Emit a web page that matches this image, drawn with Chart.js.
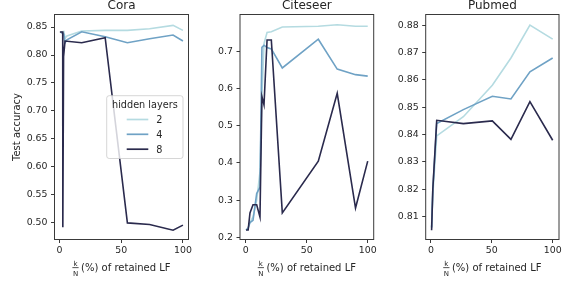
<!DOCTYPE html>
<html>
<head>
<meta charset="utf-8">
<script src="https://cdn.jsdelivr.net/npm/chart.js@4.4.0/dist/chart.umd.min.js"></script>
<style>
  html, body { margin: 0; padding: 0; background: #fff; }
  #wrap { position: relative; width: 581px; height: 291px; }
  #wrap canvas { position: absolute; left: 0; top: 0; }
</style>
</head>
<body>
<div id="wrap">
  <canvas id="cora" width="581" height="291"></canvas>
  <canvas id="citeseer" width="581" height="291"></canvas>
  <canvas id="pubmed" width="581" height="291"></canvas>
</div>
<script>
// --- dados ---
const layerLabels = ['2', '4', '8'];
const xTicks = [0, 50, 100];

// Cora
const coraX2 = [1, 3.5, 4.5, 6, 18, 37, 55, 73, 92, 100];
const coraY2 = [0.841, 0.842, 0.830, 0.834, 0.843, 0.844, 0.844, 0.847, 0.853, 0.844];
const coraX4 = [1, 3.5, 4.5, 6, 18, 37, 55, 73, 92, 100];
const coraY4 = [0.841, 0.837, 0.822, 0.827, 0.8416, 0.8326, 0.822, 0.829, 0.8357, 0.825];
const coraX8 = [0.3, 2.6, 2.7, 3.3, 4.5, 18, 37, 55, 73, 92, 100];
const coraY8 = [0.841, 0.841, 0.492, 0.797, 0.825, 0.822, 0.831, 0.500, 0.497, 0.487, 0.496];
const coraYTicks = [0.50, 0.55, 0.60, 0.65, 0.70, 0.75, 0.80, 0.85];

// Citeseer
const citeX = [0.3, 2, 3.5, 6, 9, 11.7, 13.3, 15, 17.5, 21, 30, 59.5, 75, 90, 100];
const citeY2 = [0.22, 0.225, 0.24, 0.255, 0.30, 0.376, 0.58, 0.72, 0.75, 0.752, 0.765, 0.767, 0.771, 0.767, 0.767];
const citeY4 = [0.22, 0.225, 0.24, 0.246, 0.318, 0.335, 0.71, 0.716, 0.71, 0.706, 0.655, 0.732, 0.652, 0.637, 0.633];
const citeY8 = [0.22, 0.22, 0.266, 0.288, 0.288, 0.255, 0.578, 0.556, 0.73, 0.73, 0.266, 0.405, 0.587, 0.279, 0.405];
const citeYTicks = [0.2, 0.3, 0.4, 0.5, 0.6, 0.7];

// Pubmed
const pubX = [0.5, 1.5, 4.7, 26.6, 50.4, 65.7, 81.3, 100];
const pubY2 = [0.806, 0.818, 0.8395, 0.8465, 0.858, 0.868, 0.880, 0.8749];
const pubY4 = [0.806, 0.820, 0.8440, 0.8491, 0.854, 0.853, 0.8629, 0.868];
const pubY8 = [0.805, 0.820, 0.8452, 0.844, 0.845, 0.8382, 0.852, 0.8379];
const pubYTicks = [0.81, 0.82, 0.83, 0.84, 0.85, 0.86, 0.87, 0.88];

// --- estilo ---
const lineColors = ['#b5dbe1', '#6fa2c5', '#2a2a4d'];
const textColor = '#262626';
const spineColor = '#3a3a3a';
const FONT = '"DejaVu Sans", sans-serif';
const Y_AXIS_W = 45, X_AXIS_H = 30;

function decorPlugin(cfg) {
    return {
        id: 'decor',
        afterDatasetsDraw(chart) {
            const ctx = chart.ctx, a = chart.chartArea;
            const mid = (a.left + a.right) / 2;
            ctx.save();

            // molduras (4 lados)
            ctx.strokeStyle = spineColor;
            ctx.lineWidth = 1;
            ctx.strokeRect(a.left, a.top, a.right - a.left, a.bottom - a.top);

            ctx.fillStyle = textColor;
            // título
            ctx.font = '12px ' + FONT;
            ctx.textAlign = 'center';
            ctx.textBaseline = 'alphabetic';
            ctx.fillText(cfg.title, mid, 9);

            // rótulo do eixo x: k/N (%) of retained LF
            const rest = '(%) of retained LF';
            ctx.font = '10px ' + FONT;
            const wRest = ctx.measureText(rest).width;
            ctx.font = '7px ' + FONT;
            const wFrac = Math.max(ctx.measureText('k').width, ctx.measureText('N').width) + 1;
            const gap = 2.5;
            const x0 = mid - (wFrac + gap + wRest) / 2;
            ctx.textAlign = 'center';
            ctx.fillText('k', x0 + wFrac / 2, 266.3);
            ctx.fillText('N', x0 + wFrac / 2, 276.3);
            ctx.fillRect(x0, 267.3, wFrac, 0.8);
            ctx.font = '10px ' + FONT;
            ctx.textAlign = 'left';
            ctx.fillText(rest, x0 + wFrac + gap, 271);

            if (cfg.yLabel) {
                ctx.save();
                ctx.translate(19.5, (a.top + a.bottom) / 2);
                ctx.rotate(-Math.PI / 2);
                ctx.textAlign = 'center';
                ctx.fillText(cfg.yLabel, 0, 0);
                ctx.restore();
            }

            if (cfg.legend) {
                const [l, t, r, b] = cfg.legend;
                ctx.beginPath();
                ctx.roundRect(l, t, r - l, b - t, 2.5);
                ctx.fillStyle = 'rgba(255,255,255,0.8)';
                ctx.fill();
                ctx.strokeStyle = 'rgba(204,204,204,0.8)';
                ctx.stroke();

                ctx.fillStyle = textColor;
                ctx.font = '9.7px ' + FONT;
                ctx.textAlign = 'center';
                ctx.fillText('hidden layers', (l + r) / 2, t + 11.8);

                const rows = [t + 23.8, t + 38.6, t + 53.5];
                chart.data.datasets.forEach((ds, i) => {
                    ctx.strokeStyle = ds.borderColor;
                    ctx.lineWidth = 1.7;
                    ctx.beginPath();
                    ctx.moveTo(l + 20, rows[i]);
                    ctx.lineTo(l + 41.6, rows[i]);
                    ctx.stroke();
                    ctx.fillStyle = textColor;
                    ctx.textAlign = 'left';
                    ctx.fillText(ds.label, l + 49.5, rows[i] + 3.5);
                });
            }
            ctx.restore();
        }
    };
}

function makePanel(canvasId, cfg) {
    const tickFont = { family: FONT, size: 9.4 };
    new Chart(document.getElementById(canvasId), {
        type: 'scatter',
        data: {
            datasets: cfg.series.map((s, i) => ({
                label: layerLabels[i],
                data: s.x.map((x, j) => ({ x, y: s.y[j] })),
                showLine: true,
                borderColor: lineColors[i],
                backgroundColor: lineColors[i],
                borderWidth: 1.6,
                pointRadius: 0,
                tension: 0,
                order: layerLabels.length - 1 - i
            }))
        },
        options: {
            responsive: false,
            animation: false,
            devicePixelRatio: 1,
            layout: {
                padding: {
                    left: cfg.box[0] - Y_AXIS_W,
                    top: cfg.box[1],
                    right: 581 - cfg.box[2],
                    bottom: 291 - cfg.box[3] - X_AXIS_H
                }
            },
            plugins: { legend: { display: false }, tooltip: { enabled: false }, title: { display: false } },
            scales: {
                x: {
                    type: 'linear', min: cfg.xRange[0], max: cfg.xRange[1],
                    afterFit: (s) => { s.height = X_AXIS_H; },
                    afterBuildTicks: (s) => { s.ticks = xTicks.map(v => ({ value: v })); },
                    ticks: { font: tickFont, color: textColor, padding: 2, maxRotation: 0, autoSkip: false,
                             callback: (v) => String(v) },
                    grid: { drawOnChartArea: false, drawTicks: true, tickLength: 3.5, color: spineColor },
                    border: { display: false }
                },
                y: {
                    type: 'linear', min: cfg.yRange[0], max: cfg.yRange[1],
                    afterFit: (s) => { s.width = Y_AXIS_W; },
                    afterBuildTicks: (s) => { s.ticks = cfg.yTicks.map(v => ({ value: v })); },
                    ticks: { font: tickFont, color: textColor, padding: 3.5, autoSkip: false,
                             callback: (v) => Number(v).toFixed(cfg.decimals) },
                    grid: { drawOnChartArea: false, drawTicks: true, tickLength: 3.5, color: spineColor },
                    border: { display: false }
                }
            }
        },
        plugins: [decorPlugin(cfg)]
    });
}

makePanel('cora', {
    title: 'Cora', yLabel: 'Test accuracy',
    box: [54.5, 14.5, 188.5, 239.5],
    xRange: [-4.05, 104.5], yRange: [0.4703, 0.8724],
    yTicks: coraYTicks, decimals: 2,
    legend: [106.7, 95.7, 183, 158.5],
    series: [{ x: coraX2, y: coraY2 }, { x: coraX4, y: coraY4 }, { x: coraX8, y: coraY8 }]
});

makePanel('citeseer', {
    title: 'Citeseer',
    box: [240, 14.5, 373.7, 239.5],
    xRange: [-4.67, 104.9], yRange: [0.1946, 0.7984],
    yTicks: citeYTicks, decimals: 1,
    series: [{ x: citeX, y: citeY2 }, { x: citeX, y: citeY4 }, { x: citeX, y: citeY8 }]
});

makePanel('pubmed', {
    title: 'Pubmed',
    box: [425.7, 14.5, 559, 239.5],
    xRange: [-4.35, 105.2], yRange: [0.8016, 0.8839],
    yTicks: pubYTicks, decimals: 2,
    series: [{ x: pubX, y: pubY2 }, { x: pubX, y: pubY4 }, { x: pubX, y: pubY8 }]
});
</script>
</body>
</html>
